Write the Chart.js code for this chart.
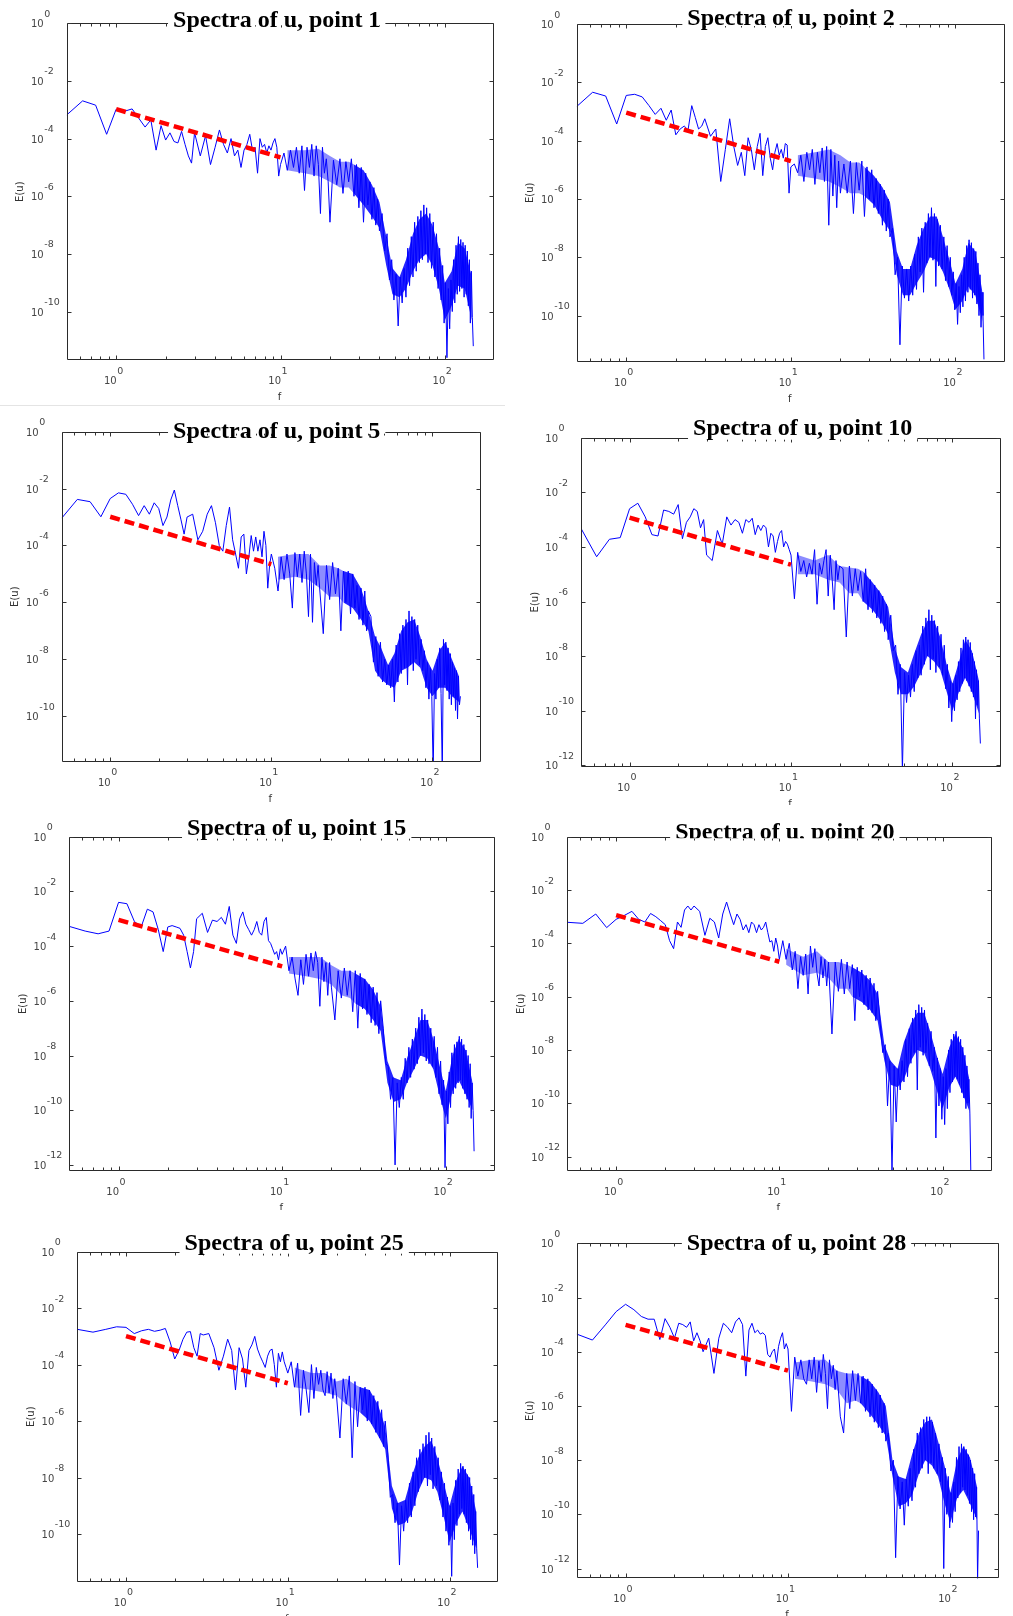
<!DOCTYPE html>
<html><head><meta charset="utf-8">
<script src="https://cdn.jsdelivr.net/npm/chart.js@4.4.1/dist/chart.umd.min.js"></script>
<style>
html,body{margin:0;padding:0;background:#fff;}
#wrap{position:relative;width:1013px;height:1616px;overflow:hidden;background:#fff;}
canvas{position:absolute;}
#sep{position:absolute;left:0;top:405px;width:505px;height:1px;background:#e4e4e4;}
</style></head><body><div id="wrap"><div id="sep"></div></div>
<script>
// ---------- DATA ----------
const freq = [0.5,0.625,0.75,0.875,
1,1.125,1.25,1.375,1.5,1.625,1.75,1.875,2,2.125,2.25,2.375,2.5,2.625,2.75,2.875,3,
3.25,3.5,3.75,4,4.25,4.5,4.75,5,5.25,5.5,5.75,6,6.25,6.5,6.75,7,7.25,7.5,7.75,8,8.25,8.5,8.75,9,9.25,9.5,9.75,10,
10.5,11,11.5,12,12.5,13,13.5,14,14.5,15,15.5,16,16.5,17,17.5,18,18.5,19,19.5,20,
21,22,23,24,25,26,27,28,29,30,31,32,33,34,35,36,37,38,39,40,
41.5,43,44.5,46,47.5,49,50.5,52,53.5,55,56.5,58,59.5,61,62.5,64,65.5,67,68.5,70,71.5,73,74.5,76,77.5,79,
81,83,85,87,89,91,93,95,97,99,101,103,105,107,109,111,113,115,117,119,121,123,125,127,129,131,133,135,137,139,141,143,145,147,149];

// log10 of E(u)
const logE_pt1 = [-3.18,-2.69,-2.84,-3.85,
-2.98,-3.05,-2.97,-3.3,-3.6,-3.35,-4.4,-3.55,-4.05,-3.8,-4.1,-4.15,-3.75,-4.2,-4.6,-4.85,-3.8,
-4.6,-3.9,-4.9,-4.3,-3.7,-4.2,-4.5,-4.0,-4.6,-4.4,-5.0,-4.4,-4.2,-3.85,-4.4,-4.3,-5.2,-4.0,-4.3,-4.2,-4.5,-4.25,-4.4,-4.15,-4.0,-4.3,-5.3,-4.9,
-4.5,-5.1,-4.4,-5.0,-4.3,-5.2,-4.25,-5.8,-4.3,-5.0,-4.2,-5.3,-4.25,-4.9,-6.6,-4.3,-5.2,-4.7,-5.5,-6.9,
-4.75,-5.6,-4.7,-5.9,-4.8,-5.5,-4.7,-6.0,-4.9,-6.4,-5.0,-6.9,-5.2,-6.3,-5.5,-6.8,-5.7,-7.0,-6.1,-7.2,
-6.6,-7.9,-7.3,-8.9,-8.2,-9.6,-8.7,-10.5,-8.8,-9.7,-8.5,-9.5,-7.8,-9.1,-7.4,-8.8,-6.9,-8.6,-6.7,-8.3,-6.5,-8.2,-6.3,-8.0,-6.4,-8.3,
-6.6,-8.5,-6.9,-8.8,-7.3,-9.2,-7.8,-9.6,-8.4,-10.4,-9.0,-11.6,-9.2,-10.6,-8.9,-10.0,-8.2,-9.7,-7.7,-9.4,-7.4,-9.3,-7.5,-9.2,-7.6,-9.5,-7.7,-9.4,-7.9,-9.8,-8.2,-10.4,-8.6,-10.2,-11.2];

const logE_pt2 = [-2.83,-2.34,-2.47,-3.43,
-2.45,-2.41,-2.5,-2.8,-3.1,-2.89,-3.3,-2.95,-3.8,-3.6,-3.5,-3.63,-2.8,-3.2,-3.6,-3.5,-3.25,
-3.85,-3.6,-5.4,-4.3,-3.25,-4.2,-4.85,-4.4,-5.2,-3.9,-4.3,-5.0,-4.2,-3.75,-5.2,-4.2,-3.9,-4.6,-5.0,-4.4,-4.1,-4.5,-4.3,-4.6,-4.1,-4.15,-5.8,-4.9,
-4.8,-5.1,-4.5,-5.4,-4.4,-5.0,-4.3,-5.5,-4.4,-5.1,-4.25,-5.4,-4.2,-6.9,-4.3,-5.9,-4.5,-6.3,-4.7,-5.8,
-4.8,-5.8,-4.7,-6.5,-4.75,-5.7,-4.7,-6.6,-4.9,-6.0,-5.0,-6.3,-5.3,-6.5,-5.5,-6.9,-5.7,-7.1,-6.0,-7.3,
-7.0,-8.6,-8.0,-11.0,-8.3,-9.4,-8.4,-9.5,-8.3,-9.3,-7.9,-9.1,-7.3,-8.5,-7.0,-9.2,-6.8,-8.2,-6.5,-8.0,-6.3,-8.1,-6.5,-9.0,-6.7,-8.3,
-6.9,-8.4,-7.3,-8.8,-7.6,-9.0,-8.0,-9.3,-8.5,-9.8,-8.9,-10.3,-9.0,-9.9,-8.6,-9.7,-8.0,-9.5,-7.6,-9.2,-7.4,-9.1,-7.5,-9.4,-7.7,-9.3,-7.8,-9.6,-8.2,-10.0,-8.6,-10.4,-9.2,-10.0,-11.5];

const logE_pt5 = [-3.04,-2.38,-2.46,-2.99,
-2.35,-2.15,-2.2,-2.55,-2.95,-2.6,-2.9,-2.5,-2.7,-3.3,-3.0,-2.4,-2.05,-2.6,-3.1,-3.6,-3.0,
-2.9,-3.8,-3.5,-2.9,-2.6,-3.2,-4.0,-4.2,-3.3,-2.65,-3.8,-4.3,-4.8,-3.7,-3.6,-5.0,-4.4,-3.65,-4.2,-3.7,-4.2,-3.8,-4.4,-3.5,-4.0,-5.5,-4.7,-4.3,
-4.8,-5.6,-4.4,-5.2,-4.3,-5.0,-6.2,-4.25,-5.1,-4.3,-5.3,-4.2,-5.0,-6.5,-4.3,-6.7,-4.6,-5.4,-4.7,-5.6,
-7.1,-4.7,-5.9,-4.6,-5.7,-4.8,-7.0,-4.9,-6.0,-4.9,-6.4,-5.0,-6.2,-5.4,-6.6,-5.5,-6.8,-5.6,-7.0,-6.3,
-6.5,-8.1,-7.2,-8.6,-7.4,-8.8,-8.0,-8.9,-8.2,-9.0,-8.0,-9.5,-7.5,-8.8,-7.1,-8.5,-6.8,-8.3,-6.6,-8.9,-6.3,-8.2,-6.5,-8.4,-6.6,-8.0,
-6.8,-8.2,-7.3,-8.4,-7.7,-9.0,-8.1,-9.4,-8.3,-9.3,-12.0,-8.5,-9.4,-8.0,-9.0,-7.6,-9.2,-12.0,-7.3,-8.9,-7.4,-9.1,-7.6,-9.4,-7.8,-9.6,-8.1,-9.3,-8.3,-9.8,-8.4,-10.1,-8.6,-9.6,-9.3];

const logE_pt10 = [-3.32,-4.36,-3.72,-3.66,
-2.6,-2.4,-2.9,-3.55,-3.6,-2.65,-2.7,-2.8,-2.45,-3.7,-3.1,-2.9,-2.6,-2.7,-3.3,-3.0,-4.3,
-4.5,-3.4,-3.9,-2.9,-3.2,-3.0,-3.1,-3.5,-3.0,-3.1,-2.95,-3.55,-3.2,-3.4,-3.2,-3.3,-4.0,-3.5,-3.6,-4.2,-3.8,-3.5,-3.4,-4.0,-3.8,-3.9,-4.1,-4.3,
-5.9,-4.2,-4.9,-4.5,-5.1,-4.6,-5.0,-4.1,-6.1,-4.6,-5.0,-4.5,-4.1,-5.8,-4.3,-5.2,-6.3,-4.5,-5.2,-4.7,
-4.8,-7.3,-4.7,-5.8,-4.8,-5.6,-4.9,-6.0,-4.8,-6.3,-5.2,-6.4,-5.4,-6.6,-5.6,-6.8,-5.8,-7.1,-6.1,-7.4,
-6.5,-7.8,-7.6,-9.4,-8.3,-12.2,-8.6,-9.7,-8.7,-9.5,-8.3,-9.3,-7.8,-8.8,-7.6,-8.7,-6.9,-8.3,-6.6,-8.0,-6.3,-8.5,-6.5,-8.1,-6.7,-8.6,
-6.9,-8.4,-7.2,-8.7,-7.6,-9.2,-8.3,-9.9,-8.9,-10.4,-9.0,-10.0,-8.7,-9.6,-8.2,-9.3,-7.7,-9.0,-7.4,-8.8,-7.3,-8.9,-7.4,-9.1,-7.5,-9.3,-7.9,-9.5,-8.2,-10.3,-8.5,-9.8,-8.9,-10.3,-11.2];

const logE_pt15 = [-3.28,-3.45,-3.55,-3.45,
-2.4,-2.45,-3.1,-3.3,-2.65,-2.75,-3.4,-4.2,-3.3,-3.25,-3.3,-3.35,-3.6,-4.2,-4.8,-4.2,-3.0,
-2.8,-3.5,-3.05,-3.1,-2.95,-3.2,-2.55,-3.6,-3.9,-3.0,-2.75,-3.2,-3.4,-3.6,-3.4,-3.1,-3.5,-3.6,-3.1,-2.95,-3.8,-3.9,-4.1,-4.3,-4.2,-4.5,-4.1,-4.3,
-4.0,-4.9,-4.4,-5.2,-5.8,-4.5,-5.4,-4.3,-5.1,-4.25,-4.9,-4.2,-4.6,-6.2,-4.4,-5.3,-4.6,-5.8,-4.6,-5.5,
-6.7,-4.9,-5.9,-4.8,-5.8,-4.9,-6.4,-4.9,-7.0,-5.0,-6.3,-5.2,-6.5,-5.4,-6.8,-5.5,-6.9,-5.7,-7.2,-6.0,
-7.0,-8.3,-8.4,-9.6,-8.8,-12.0,-9.0,-9.9,-8.8,-9.6,-8.1,-9.0,-7.7,-8.8,-7.4,-8.5,-7.0,-8.3,-6.6,-8.0,-6.3,-7.9,-6.5,-8.2,-6.7,-8.3,
-7.0,-8.4,-7.3,-8.8,-7.7,-9.4,-8.2,-9.8,-8.9,-12.1,-9.3,-10.5,-8.6,-9.9,-7.9,-9.4,-7.6,-9.2,-7.5,-9.0,-7.3,-8.9,-7.4,-9.2,-7.6,-9.4,-7.8,-9.6,-8.0,-9.9,-8.3,-10.3,-9.0,-10.0,-11.5];

const logE_pt20 = [-3.21,-3.25,-2.9,-3.41,
-3.1,-2.95,-2.8,-3.1,-3.2,-2.88,-3.0,-3.15,-3.3,-3.9,-4.2,-3.2,-3.4,-2.75,-2.6,-2.75,-2.6,
-2.8,-3.7,-3.06,-3.2,-3.8,-2.9,-2.45,-2.9,-3.3,-2.9,-3.1,-3.5,-3.3,-3.6,-3.2,-3.3,-3.6,-3.3,-3.5,-3.4,-3.2,-3.6,-3.95,-3.9,-4.3,-3.8,-4.1,-4.6,
-3.9,-4.6,-4.0,-5.0,-4.3,-5.7,-4.5,-5.2,-4.4,-5.9,-4.1,-4.9,-4.2,-5.1,-5.6,-4.5,-5.3,-4.6,-5.6,-4.7,
-7.4,-4.7,-5.8,-4.6,-5.9,-4.7,-5.7,-4.8,-6.9,-4.9,-6.0,-5.0,-6.3,-5.2,-6.5,-5.3,-6.6,-5.5,-6.9,-5.8,
-7.0,-8.1,-7.8,-10.1,-8.4,-12.6,-8.6,-10.7,-8.7,-9.5,-8.4,-9.2,-7.6,-9.0,-7.2,-8.5,-6.8,-8.1,-6.5,-9.5,-6.3,-7.9,-6.4,-8.2,-6.5,-8.1,
-7.0,-8.6,-7.3,-8.8,-7.9,-11.3,-8.3,-10.1,-8.7,-10.6,-9.0,-10.8,-8.7,-10.2,-8.0,-9.6,-7.6,-9.2,-7.4,-9.0,-7.3,-9.1,-7.5,-9.3,-7.6,-9.6,-7.9,-9.8,-8.2,-10.2,-8.6,-10.0,-9.1,-10.4,-12.6];

const logE_pt25 = [-2.75,-2.85,-2.75,-2.66,
-2.68,-2.9,-2.8,-2.75,-2.82,-2.78,-2.72,-3.2,-3.8,-3.5,-3.1,-2.85,-2.83,-3.4,-3.7,-2.9,-2.95,
-2.9,-3.4,-4.2,-3.7,-3.1,-3.5,-4.9,-3.4,-3.8,-4.8,-3.5,-3.3,-3.0,-3.45,-3.7,-3.9,-4.1,-3.7,-3.5,-3.45,-4.0,-4.8,-3.6,-3.9,-3.55,-3.9,-4.1,-4.3,
-3.9,-4.8,-3.95,-5.8,-4.2,-4.9,-5.7,-4.0,-5.2,-4.1,-4.7,-4.2,-4.9,-5.1,-4.25,-5.0,-4.3,-5.2,-4.5,-5.1,
-6.6,-4.5,-5.4,-4.4,-7.3,-4.6,-6.2,-4.8,-5.6,-4.8,-6.0,-4.9,-6.1,-5.1,-6.4,-5.3,-6.6,-5.6,-6.9,-6.0,
-7.1,-8.7,-8.6,-9.6,-8.9,-11.1,-9.0,-9.9,-8.8,-9.6,-8.2,-9.4,-7.8,-9.0,-7.3,-8.5,-7.0,-8.2,-6.8,-8.0,-6.5,-8.3,-6.4,-7.9,-6.6,-8.4,
-6.9,-8.3,-7.3,-8.8,-7.8,-9.4,-8.2,-9.9,-8.7,-10.4,-9.0,-11.5,-8.9,-10.2,-8.1,-9.7,-7.7,-9.3,-7.5,-9.1,-7.6,-9.3,-7.7,-9.6,-7.9,-9.9,-8.0,-10.2,-8.3,-10.4,-8.6,-10.7,-9.2,-10.5,-11.2];

const logE_pt28 = [-3.35,-3.57,-3.01,-2.52,
-2.25,-2.45,-2.7,-2.8,-2.8,-3.55,-2.78,-3.1,-3.5,-2.95,-3.0,-3.1,-2.9,-3.6,-3.3,-3.6,-4.0,
-3.5,-4.8,-3.5,-2.95,-3.1,-3.3,-2.9,-2.75,-3.0,-4.9,-3.2,-2.95,-3.3,-3.2,-3.35,-3.3,-3.4,-4.1,-4.2,-4.0,-3.9,-4.4,-3.8,-3.5,-3.3,-3.9,-3.7,-3.9,
-6.2,-4.2,-4.9,-4.3,-5.0,-5.2,-4.3,-5.0,-4.2,-5.5,-4.35,-5.1,-4.1,-4.8,-6.1,-4.3,-5.0,-4.5,-5.4,-4.7,
-6.4,-7.0,-4.8,-6.1,-4.7,-5.8,-4.8,-5.9,-4.9,-6.2,-5.0,-6.4,-5.2,-6.6,-5.4,-6.8,-5.6,-7.0,-5.9,-7.3,
-7.0,-8.4,-8.0,-11.6,-8.6,-9.8,-8.8,-10.4,-8.7,-9.7,-8.3,-9.5,-7.6,-9.0,-7.0,-8.5,-6.8,-8.3,-6.5,-8.0,-6.4,-8.5,-6.4,-8.1,-6.6,-8.3,
-7.0,-8.5,-7.4,-8.8,-7.9,-12.0,-8.3,-10.0,-8.6,-10.5,-9.2,-10.3,-8.8,-9.9,-7.9,-9.4,-7.5,-9.2,-7.4,-9.0,-7.5,-9.1,-7.6,-9.3,-7.8,-9.6,-8.0,-9.9,-8.3,-10.2,-8.5,-10.1,-9.0,-12.4,-10.6];

// dense core of the high-frequency noise (log10 E), read as upper / lower edges
const coreFreqLow  = [11, 14, 17, 20, 23, 26, 28];
const coreFreqHigh = [28, 32, 36, 40, 44, 48, 53, 58, 64, 70, 77, 84, 92, 100, 110, 120, 132, 146];
const coreLowTop_pt1  = [-4.4,-4.4,-4.35,-4.6,-4.8,-4.8,-4.9];
const coreLowBot_pt1  = [-5.1,-5.2,-5.3,-5.5,-5.7,-5.7,-5.9];
const coreHighTop_pt1 = [-4.9,-5.1,-5.6,-6.2,-7.4,-8.5,-8.8,-8.2,-7.3,-6.8,-6.6,-7.0,-7.8,-9.0,-8.6,-7.6,-7.8,-8.8];
const coreHighBot_pt1 = [-5.9,-6.3,-6.7,-7.1,-8.4,-9.4,-9.5,-9.2,-8.6,-8.2,-8.0,-8.4,-9.2,-10.3,-9.8,-9.1,-9.2,-10.3];
const coreLowTop_pt2  = [-4.5,-4.4,-4.3,-4.5,-4.75,-4.75,-4.9];
const coreLowBot_pt2  = [-5.2,-5.3,-5.4,-5.6,-5.8,-5.8,-5.9];
const coreHighTop_pt2 = [-4.9,-5.2,-5.6,-6.1,-7.8,-8.4,-8.4,-7.6,-7.0,-6.6,-6.6,-7.3,-8.1,-8.9,-8.4,-7.5,-7.8,-9.2];
const coreHighBot_pt2 = [-5.9,-6.2,-6.7,-7.1,-8.6,-9.3,-9.3,-8.9,-8.5,-8.0,-8.1,-8.5,-9.1,-9.8,-9.5,-9.0,-9.3,-10.2];
const coreLowTop_pt5  = [-4.4,-4.3,-4.3,-4.7,-4.7,-4.8,-4.9];
const coreLowBot_pt5  = [-5.2,-5.1,-5.2,-5.5,-5.8,-5.8,-6.0];
const coreHighTop_pt5 = [-4.9,-5.0,-5.5,-6.3,-7.2,-7.6,-8.2,-7.8,-7.0,-6.7,-6.6,-7.2,-8.0,-8.4,-7.7,-7.4,-8.0,-8.6];
const coreHighBot_pt5 = [-6.0,-6.2,-6.6,-7.0,-8.4,-8.7,-8.9,-9.0,-8.4,-8.3,-8.1,-8.3,-9.0,-9.3,-9.0,-9.0,-9.3,-9.5];
const coreLowTop_pt10  = [-4.3,-4.5,-4.3,-4.7,-4.75,-4.8,-4.9];
const coreLowBot_pt10  = [-5.0,-5.0,-5.2,-5.3,-5.7,-5.7,-6.0];
const coreHighTop_pt10 = [-4.9,-5.3,-5.7,-6.2,-7.7,-8.4,-8.6,-7.9,-7.2,-6.7,-6.7,-7.3,-8.3,-9.0,-8.2,-7.4,-7.8,-8.9];
const coreHighBot_pt10 = [-6.0,-6.3,-6.7,-7.2,-8.6,-9.4,-9.4,-9.1,-8.6,-8.0,-8.2,-8.5,-9.3,-10.0,-9.3,-8.8,-9.3,-10.1];
const coreLowTop_pt15  = [-4.4,-4.4,-4.4,-4.7,-4.9,-4.9,-5.0];
const coreLowBot_pt15  = [-5.0,-5.1,-5.2,-5.4,-5.8,-5.9,-6.1];
const coreHighTop_pt15 = [-5.0,-5.2,-5.6,-6.2,-8.2,-8.8,-8.9,-8.1,-7.4,-6.7,-6.7,-7.4,-8.4,-9.3,-8.0,-7.4,-7.8,-9.0];
const coreHighBot_pt15 = [-6.1,-6.3,-6.7,-7.1,-9.0,-9.7,-9.6,-9.0,-8.5,-8.0,-8.1,-8.5,-9.5,-10.3,-9.3,-8.9,-9.4,-10.0];
const coreLowTop_pt20  = [-4.2,-4.5,-4.3,-4.7,-4.7,-4.8,-4.9];
const coreLowBot_pt20  = [-4.8,-5.2,-5.1,-5.3,-5.7,-5.7,-6.0];
const coreHighTop_pt20 = [-4.9,-5.1,-5.4,-5.9,-7.8,-8.4,-8.7,-7.7,-7.0,-6.6,-6.6,-7.3,-8.2,-8.9,-7.9,-7.4,-7.9,-9.1];
const coreHighBot_pt20 = [-6.0,-6.2,-6.5,-6.9,-8.4,-9.3,-9.4,-9.1,-8.4,-8.0,-8.1,-8.7,-9.5,-10.2,-9.4,-9.0,-9.6,-10.3];
const coreLowTop_pt25  = [-4.1,-4.3,-4.3,-4.6,-4.5,-4.7,-4.8];
const coreLowBot_pt25  = [-4.8,-4.9,-5.0,-5.1,-5.4,-5.6,-5.7];
const coreHighTop_pt25 = [-4.8,-4.9,-5.4,-6.2,-8.3,-8.9,-8.8,-8.0,-7.3,-6.9,-6.7,-7.3,-8.2,-9.0,-8.1,-7.6,-8.0,-9.2];
const coreHighBot_pt25 = [-5.7,-6.0,-6.5,-7.0,-9.1,-9.7,-9.6,-9.3,-8.5,-8.0,-8.1,-8.5,-9.4,-10.3,-9.6,-9.2,-9.8,-10.5];
const coreLowTop_pt28  = [-4.4,-4.3,-4.3,-4.7,-4.8,-4.8,-4.9];
const coreLowBot_pt28  = [-5.0,-5.1,-5.2,-5.4,-5.9,-5.8,-5.9];
const coreHighTop_pt28 = [-4.9,-5.1,-5.5,-6.0,-8.0,-8.6,-8.7,-7.8,-7.0,-6.6,-6.5,-7.3,-8.2,-9.2,-8.0,-7.5,-7.9,-9.0];
const coreHighBot_pt28 = [-5.9,-6.3,-6.7,-7.1,-8.6,-9.7,-9.6,-9.3,-8.5,-8.0,-8.2,-8.6,-9.6,-10.3,-9.4,-9.1,-9.6,-10.2];

// red dashed reference line (log10 E at f=1 and f=10)
const refFreq = [1, 10];
const refLog_pt1  = [-2.98, -4.65];
const refLog_pt2  = [-3.04, -4.70];
const refLog_pt5  = [-2.99, -4.66];
const refLog_pt10 = [-2.93, -4.65];
const refLog_pt15 = [-3.04, -4.74];
const refLog_pt20 = [-2.94, -4.69];
const refLog_pt25 = [-2.99, -4.66];
const refLog_pt28 = [-3.01, -4.70];

// tick labels
const xTickExp = [0, 1, 2];
const xMinorTicks = [0.6,0.7,0.8,0.9,2,3,4,5,6,7,8,9,20,30,40,50,60,70,80,90];
const yTickExp10 = [0,-2,-4,-6,-8,-10];
const yTickExp12 = [0,-2,-4,-6,-8,-10,-12];
const titles = ['Spectra of u, point 1','Spectra of u, point 2','Spectra of u, point 5','Spectra of u, point 10',
                'Spectra of u, point 15','Spectra of u, point 20','Spectra of u, point 25','Spectra of u, point 28'];
const yBottomExp = [-11.68,-11.58,-11.6,-12.05,-12.19,-12.54,-11.69,-12.36];

// ---------- LAYOUT (page pixel positions only) ----------
const layout = [
 {canvas:[0,0,506,405],     box:[66.7,23.3,494.3,360],    tx:276.7, ty:26.5,  clip:false},
 {canvas:[506,0,507,405],   box:[576.7,24,1005,361.7],    tx:791,   ty:24.5,  clip:false},
 {canvas:[0,405,506,400],   box:[61.7,431.7,481,761.7],   tx:276.7, ty:438.3, clip:false},
 {canvas:[506,405,507,400], box:[581,437.7,1001,766.7],   tx:802.7, ty:435,   clip:false},
 {canvas:[0,805,506,405],   box:[69.3,836.7,495,1171],    tx:296.7, ty:834.5, clip:false},
 {canvas:[506,805,507,405], box:[567,836.7,991.7,1171],   tx:784.8, ty:838.5, clip:true},
 {canvas:[0,1210,506,406],  box:[77.3,1251.7,498.3,1581.7], tx:294.2, ty:1249.5, clip:false},
 {canvas:[506,1210,507,406],box:[576.7,1243.3,999.3,1578.3], tx:796.5, ty:1249.5, clip:false}
];
const seriesList = [logE_pt1,logE_pt2,logE_pt5,logE_pt10,logE_pt15,logE_pt20,logE_pt25,logE_pt28];
const refList = [refLog_pt1,refLog_pt2,refLog_pt5,refLog_pt10,refLog_pt15,refLog_pt20,refLog_pt25,refLog_pt28];
const coreList = [
 [coreLowTop_pt1,coreLowBot_pt1,coreHighTop_pt1,coreHighBot_pt1],
 [coreLowTop_pt2,coreLowBot_pt2,coreHighTop_pt2,coreHighBot_pt2],
 [coreLowTop_pt5,coreLowBot_pt5,coreHighTop_pt5,coreHighBot_pt5],
 [coreLowTop_pt10,coreLowBot_pt10,coreHighTop_pt10,coreHighBot_pt10],
 [coreLowTop_pt15,coreLowBot_pt15,coreHighTop_pt15,coreHighBot_pt15],
 [coreLowTop_pt20,coreLowBot_pt20,coreHighTop_pt20,coreHighBot_pt20],
 [coreLowTop_pt25,coreLowBot_pt25,coreHighTop_pt25,coreHighBot_pt25],
 [coreLowTop_pt28,coreLowBot_pt28,coreHighTop_pt28,coreHighBot_pt28]
];
const yTickList = [yTickExp10,yTickExp10,yTickExp10,yTickExp12,yTickExp12,yTickExp12,yTickExp10,yTickExp12];

// ---------- DRAW ----------
const LABEL_FONT = '"DejaVu Sans", Arial, sans-serif';
function framePlugin(idx){
  const P = layout[idx];
  return {
    id: 'frame' + idx,
    afterDraw(chart){
      const ctx = chart.ctx, a = chart.chartArea, xs = chart.scales.x, ys = chart.scales.y;
      const ox = P.canvas[0], oy = P.canvas[1];
      const L = Math.round(a.left) + 0.5, R = Math.round(a.right) - 0.5;
      const T = Math.round(a.top) + 0.5, B = Math.round(a.bottom) - 0.5;
      ctx.save();
      ctx.strokeStyle = '#2a2a2a'; ctx.lineWidth = 1;
      ctx.beginPath();
      ctx.moveTo(L, T); ctx.lineTo(R, T); ctx.lineTo(R, B); ctx.lineTo(L, B); ctx.closePath();
      ctx.stroke();
      ctx.strokeStyle = '#333'; ctx.beginPath();
      xTickExp.forEach(e => {
        const px = Math.round(xs.getPixelForValue(Math.pow(10, e))) + 0.5;
        ctx.moveTo(px, B); ctx.lineTo(px, B - 4);
        ctx.moveTo(px, T); ctx.lineTo(px, T + 4);
      });
      xMinorTicks.forEach(v => {
        const px = Math.round(xs.getPixelForValue(v)) + 0.5;
        ctx.moveTo(px, B); ctx.lineTo(px, B - 3);
        ctx.moveTo(px, T); ctx.lineTo(px, T + 3);
      });
      yTickList[idx].forEach(e => {
        const py = Math.round(ys.getPixelForValue(Math.pow(10, e))) + 0.5;
        ctx.moveTo(L, py); ctx.lineTo(L + 4, py);
        ctx.moveTo(R, py); ctx.lineTo(R - 4, py);
      });
      ctx.stroke();
      ctx.fillStyle = '#454545';
      ctx.textBaseline = 'alphabetic';
      xTickExp.forEach(e => {
        const px = xs.getPixelForValue(Math.pow(10, e));
        ctx.font = '10px ' + LABEL_FONT; ctx.textAlign = 'right';
        ctx.fillText('10', px + 0.5, a.bottom + 24);
        ctx.font = '9.5px ' + LABEL_FONT; ctx.textAlign = 'left';
        ctx.fillText(String(e), px + 1, a.bottom + 13.5);
      });
      yTickList[idx].forEach(e => {
        const py = ys.getPixelForValue(Math.pow(10, e));
        ctx.font = '10px ' + LABEL_FONT; ctx.textAlign = 'right';
        ctx.fillText('10', a.left - 23, py + 4);
        ctx.font = '9.5px ' + LABEL_FONT; ctx.textAlign = 'left';
        ctx.fillText(String(e), a.left - 22.5, py - 6.5);
      });
      ctx.fillStyle = '#333';
      ctx.font = '10px ' + LABEL_FONT;
      ctx.textAlign = 'center';
      ctx.fillText('f', (a.left + a.right) / 2 - 1, a.bottom + 40);
      ctx.save();
      ctx.translate(a.left - 46, (a.top + a.bottom) / 2);
      ctx.rotate(-Math.PI / 2);
      ctx.textBaseline = 'middle';
      ctx.fillText('E(u)', 0, 0);
      ctx.restore();
      ctx.font = 'bold 24px "Liberation Serif", "Times New Roman", serif';
      const w = ctx.measureText(titles[idx]).width;
      const tl = P.tx - ox - w / 2;
      ctx.fillStyle = '#fff';
      ctx.fillRect(tl - 5, a.top - 2, w + 10, 4);
      ctx.save();
      if (P.clip) { ctx.beginPath(); ctx.rect(0, 0, chart.width, a.top + 1.5); ctx.clip(); }
      ctx.fillStyle = '#000'; ctx.textAlign = 'left';
      ctx.fillText(titles[idx], tl, P.ty - oy);
      ctx.restore();
      ctx.restore();
    }
  };
}

function toPts(fs, logs){
  const n = Math.min(fs.length, logs.length);
  if (fs.length !== logs.length) console.warn('length mismatch', fs.length, logs.length);
  const out = [];
  for (let i = 0; i < n; i++) out.push({x: fs[i], y: Math.pow(10, logs[i])});
  return out;
}

const wrap = document.getElementById('wrap');
layout.forEach((P, idx) => {
  const cv = document.createElement('canvas');
  const [cx, cy, cw, ch] = P.canvas;
  cv.width = cw; cv.height = ch;
  cv.style.left = cx + 'px'; cv.style.top = cy + 'px';
  cv.style.width = cw + 'px'; cv.style.height = ch + 'px';
  wrap.appendChild(cv);
  const core = coreList[idx];
  const [bl, bt, br, bb] = P.box;
  const band = (data, fill, color) => ({ data, borderWidth: 0, borderColor: 'rgba(0,0,0,0)', backgroundColor: color,
      pointRadius: 0, fill, tension: 0, order: 2 });
  new Chart(cv, {
    type: 'line',
    data: { datasets: [
      { data: toPts(refFreq, refList[idx]), borderColor: '#ff0000', borderWidth: 4.5, borderDash: [10, 5],
        borderCapStyle: 'butt', pointRadius: 0, fill: false, order: 0 },
      { data: toPts(freq, seriesList[idx]), borderColor: '#0000ff', borderWidth: 1, borderJoinStyle: 'bevel',
        pointRadius: 0, fill: false, tension: 0, order: 1 },
      band(toPts(coreFreqLow, core[0]), '+1', 'rgba(0,0,255,0.45)'),
      band(toPts(coreFreqLow, core[1]), false, 'rgba(0,0,255,0.45)'),
      band(toPts(coreFreqHigh, core[2]), '+1', 'rgba(0,0,255,0.85)'),
      band(toPts(coreFreqHigh, core[3]), false, 'rgba(0,0,255,0.85)')
    ]},
    options: {
      responsive: false, animation: false, devicePixelRatio: 1, events: [],
      layout: { padding: { left: bl - cx, top: bt - cy, right: cx + cw - br, bottom: cy + ch - bb } },
      plugins: { legend: { display: false }, tooltip: { enabled: false }, title: { display: false },
                 filler: { propagate: false } },
      scales: {
        x: { type: 'logarithmic', min: 0.5, max: 200, display: false },
        y: { type: 'logarithmic', min: Math.pow(10, yBottomExp[idx]), max: 1, display: false }
      }
    },
    plugins: [framePlugin(idx)]
  });
});
</script></body></html>
